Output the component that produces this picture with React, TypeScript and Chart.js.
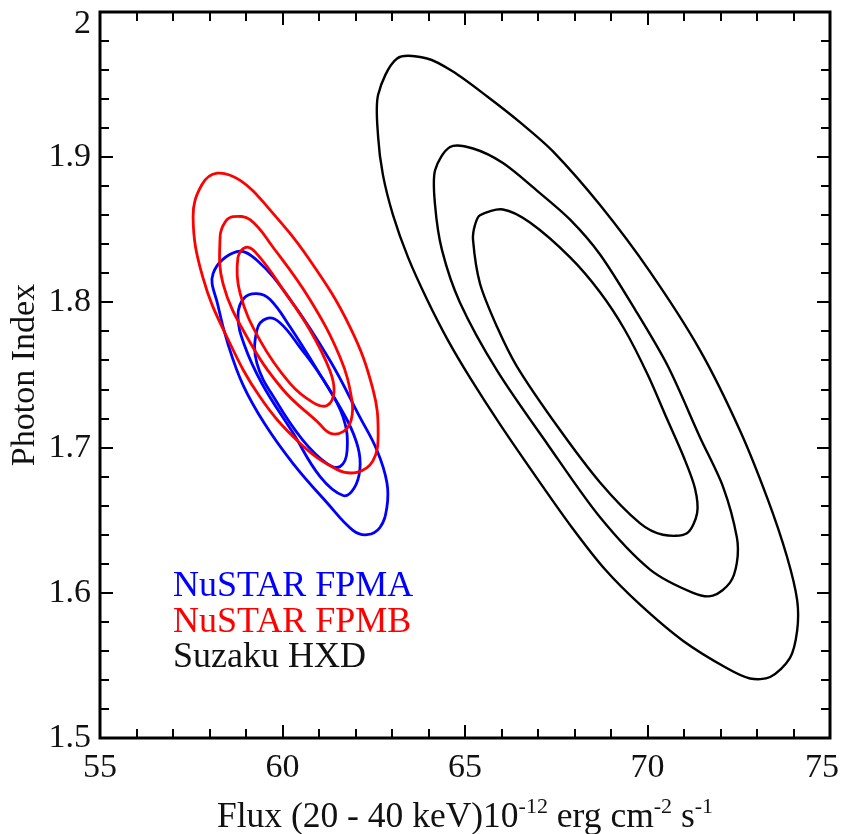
import React, { useEffect, useRef } from 'react';
import { Chart, registerables } from 'chart.js';

Chart.register(...registerables);

const FONT = "'Liberation Serif', 'Times New Roman', serif";

// Axis ranges and tick labels
const xRange = [55, 75];
const yRange = [1.5, 2.0];
const xTickLabels = ['55', '60', '65', '70', '75'];
const yTickLabels = ['1.5', '1.6', '1.7', '1.8', '1.9', '2'];
const xMinorStep = 1;
const yMinorStep = 0.02;
const minorPerMajor = 5;

// Legend
const legendLabels = ['NuSTAR FPMA', 'NuSTAR FPMB', 'Suzaku HXD'];
const seriesColors = ['#0000ff', '#ff0000', '#000000'];

// Axis titles
const yTitle = 'Photon Index';
const xTitleParts: [string, boolean][] = [
  ['Flux (20 - 40 keV)10', false],
  ['-12', true],
  [' erg cm', false],
  ['-2', true],
  [' s', false],
  ['-1', true],
];

// Contours: [flux, photon index]
const fpmaInner: [number, number][] = [
  [59.58, 1.789], [59.93, 1.786], [60.48, 1.769], [61.11, 1.747], [61.66, 1.721], [61.77, 1.698],
  [61.58, 1.687], [61.22, 1.689], [60.56, 1.705], [59.85, 1.731], [59.30, 1.758], [59.30, 1.781],
];
const fpmaMid: [number, number][] = [
  [59.30, 1.806], [59.66, 1.802], [60.21, 1.783], [61.11, 1.747], [61.77, 1.719], [62.07, 1.700],
  [62.12, 1.685], [61.96, 1.672], [61.66, 1.667], [61.03, 1.680], [60.29, 1.710], [59.44, 1.744],
  [58.95, 1.771], [58.78, 1.791], [58.95, 1.803],
];
const fpmaOuter: [number, number][] = [
  [58.75, 1.835], [59.30, 1.829], [60.21, 1.802], [61.30, 1.760], [62.12, 1.721], [62.59, 1.698],
  [62.86, 1.676], [62.86, 1.659], [62.67, 1.645], [62.32, 1.640], [61.93, 1.643], [61.22, 1.662],
  [60.29, 1.689], [59.52, 1.716], [58.92, 1.743], [58.51, 1.771], [58.23, 1.798], [58.10, 1.820],
];
const fpmbInner: [number, number][] = [
  [59.03, 1.838], [59.38, 1.831], [60.01, 1.809], [60.75, 1.781], [61.30, 1.753], [61.41, 1.738],
  [61.22, 1.729], [60.84, 1.731], [60.21, 1.744], [59.38, 1.774], [58.84, 1.806], [58.78, 1.831],
];
const fpmbMid: [number, number][] = [
  [58.64, 1.859], [59.11, 1.857], [59.74, 1.838], [60.75, 1.802], [61.58, 1.762], [61.90, 1.733],
  [61.88, 1.719], [61.66, 1.711], [61.30, 1.710], [60.95, 1.718], [60.01, 1.740], [59.03, 1.776],
  [58.37, 1.813], [58.29, 1.845], [58.42, 1.855],
];
const fpmbOuter: [number, number][] = [
  [58.21, 1.889], [58.84, 1.884], [59.58, 1.866], [60.75, 1.829], [61.85, 1.783], [62.48, 1.740],
  [62.62, 1.710], [62.48, 1.691], [62.04, 1.683], [61.49, 1.685], [60.48, 1.703], [59.38, 1.735],
  [58.48, 1.776], [57.82, 1.817], [57.55, 1.859], [57.79, 1.881],
];
const hxdInner: [number, number][] = [
  [65.27, 1.853], [65.41, 1.860], [66.04, 1.864], [66.78, 1.855], [67.88, 1.831], [68.70, 1.807],
  [69.38, 1.781], [70.01, 1.750], [70.53, 1.720], [71.00, 1.693], [71.30, 1.672], [71.36, 1.655],
  [71.08, 1.641], [70.42, 1.640], [69.79, 1.648], [68.70, 1.676], [67.55, 1.714], [66.42, 1.756],
  [65.88, 1.783], [65.41, 1.813], [65.22, 1.843],
];
const hxdMid: [number, number][] = [
  [64.18, 1.891], [64.59, 1.907], [65.22, 1.906], [66.04, 1.896], [66.97, 1.877], [67.88, 1.857],
  [68.70, 1.833], [69.66, 1.795], [70.56, 1.756], [71.44, 1.707], [72.07, 1.673], [72.45, 1.638],
  [72.45, 1.621], [72.26, 1.607], [71.79, 1.598], [71.25, 1.600], [70.07, 1.616], [68.70, 1.652],
  [67.27, 1.702], [65.88, 1.753], [64.86, 1.800], [64.37, 1.836], [64.18, 1.867],
];
const hxdOuter: [number, number][] = [
  [62.62, 1.943], [63.14, 1.968], [63.96, 1.968], [64.67, 1.959], [65.60, 1.942], [66.51, 1.924],
  [67.41, 1.904], [68.70, 1.867], [70.07, 1.821], [71.44, 1.767], [72.53, 1.712], [73.30, 1.664],
  [73.82, 1.625], [74.10, 1.595], [74.10, 1.574], [73.90, 1.555], [73.36, 1.542], [72.81, 1.541],
  [72.18, 1.548], [70.97, 1.567], [69.79, 1.592], [68.84, 1.616], [67.93, 1.645], [66.97, 1.679],
  [65.96, 1.716], [65.14, 1.748], [64.53, 1.774], [63.96, 1.802], [63.44, 1.831], [63.03, 1.860],
  [62.75, 1.888], [62.62, 1.914],
];

const contourGroups: { name: string; color: string; width: number; tension: number; loops: [number, number][][] }[] = [
  { name: legendLabels[2], color: seriesColors[2], width: 2.4, tension: 0.3, loops: [hxdOuter, hxdMid, hxdInner] },
  { name: legendLabels[1], color: seriesColors[1], width: 2.8, tension: 0.4, loops: [fpmbOuter, fpmbMid, fpmbInner] },
  { name: legendLabels[0], color: seriesColors[0], width: 2.8, tension: 0.4, loops: [fpmaOuter, fpmaMid, fpmaInner] },
];

// closed loop: wrap with neighbours so spline tangents are continuous; hide the wrap segments
function loopDataset(label: string, color: string, width: number, tension: number, pts: [number, number][]) {
  const n = pts.length;
  const wrapped = [pts[n - 1], ...pts, pts[0], pts[1]].map(([x, y]) => ({ x, y }));
  const lastSeg = wrapped.length - 2;
  return {
    label,
    data: wrapped,
    borderColor: color,
    backgroundColor: color,
    borderWidth: width,
    pointRadius: 0,
    pointHoverRadius: 0,
    showLine: true,
    fill: false,
    tension,
    segment: {
      borderColor: (ctx: any) =>
        ctx.p0DataIndex === 0 || ctx.p0DataIndex === lastSeg ? 'rgba(0,0,0,0)' : undefined,
    },
  };
}

const framePlugin = {
  id: 'frameTicks',
  beforeDraw(chart: any) {
    const xs = chart.scales.x;
    const ys = chart.scales.y;
    const xi = xs.getLabelItems();
    if (xi.length && !xi._shifted) {
      xi[xi.length - 1].options.translation[0] -= 8;
      xi._shifted = true;
    }
    const yi = ys.getLabelItems();
    if (yi.length && !yi._shifted) {
      yi[yi.length - 1].options.translation[1] += 12;
      yi._shifted = true;
    }
  },
  afterDatasetsDraw(chart: any) {
    const { ctx, chartArea: a } = chart;
    const xs = chart.scales.x;
    const ys = chart.scales.y;
    ctx.save();
    ctx.strokeStyle = '#000';
    ctx.lineWidth = 2;
    ctx.lineCap = 'butt';
    const nx = Math.round((xs.max - xs.min) / xMinorStep);
    for (let i = 0; i <= nx; i++) {
      const px = Math.round(xs.getPixelForValue(xs.min + i * xMinorStep));
      const len = i % minorPerMajor === 0 ? 13 : 9;
      ctx.beginPath();
      ctx.moveTo(px, a.bottom);
      ctx.lineTo(px, a.bottom - len);
      ctx.moveTo(px, a.top);
      ctx.lineTo(px, a.top + len);
      ctx.stroke();
    }
    const ny = Math.round((ys.max - ys.min) / yMinorStep);
    for (let i = 0; i <= ny; i++) {
      const py = Math.round(ys.getPixelForValue(ys.min + i * yMinorStep));
      const len = i % minorPerMajor === 0 ? 13 : 9;
      ctx.beginPath();
      ctx.moveTo(a.left, py);
      ctx.lineTo(a.left + len, py);
      ctx.moveTo(a.right, py);
      ctx.lineTo(a.right - len, py);
      ctx.stroke();
    }
    ctx.lineWidth = 3;
    ctx.strokeRect(a.left, a.top, a.right - a.left, a.bottom - a.top);

    // legend text inside the plot
    ctx.textAlign = 'left';
    ctx.textBaseline = 'alphabetic';
    ctx.font = `36px ${FONT}`;
    const lx = a.left + 73;
    const baselines = [a.top + 584, a.top + 620, a.top + 655];
    legendLabels.forEach((t, i) => {
      ctx.fillStyle = seriesColors[i] === '#000000' ? '#111' : seriesColors[i];
      ctx.fillText(t, lx, baselines[i]);
    });

    // x-axis title with superscripts
    const base = a.bottom + 89;
    const mainFont = `35.5px ${FONT}`;
    const supFont = `22px ${FONT}`;
    let total = 0;
    const widths = xTitleParts.map(([t, sup]) => {
      ctx.font = sup ? supFont : mainFont;
      const w = ctx.measureText(t).width;
      total += w;
      return w;
    });
    let x = (a.left + a.right) / 2 - total / 2;
    ctx.fillStyle = '#111';
    xTitleParts.forEach(([t, sup], i) => {
      ctx.font = sup ? supFont : mainFont;
      ctx.fillText(t, x, sup ? base - 14 : base);
      x += widths[i];
    });
    ctx.restore();
  },
};

export default function App() {
  const ref = useRef<HTMLCanvasElement | null>(null);
  useEffect(() => {
    if (!ref.current) return;
    const datasets: any[] = [];
    contourGroups.forEach((g) => {
      g.loops.forEach((pts) => datasets.push(loopDataset(g.name, g.color, g.width, g.tension, pts)));
    });
    const chart = new Chart(ref.current, {
      type: 'scatter',
      data: { datasets },
      plugins: [framePlugin],
      options: {
        responsive: false,
        animation: false,
        events: [],
        layout: { padding: { left: 0, right: 11, top: 12, bottom: 0 } },
        plugins: { legend: { display: false }, tooltip: { enabled: false } },
        scales: {
          x: {
            type: 'linear',
            position: 'bottom',
            min: xRange[0],
            max: xRange[1],
            afterFit: (s: any) => {
              s.height = 96;
              s.paddingLeft = 0;
              s.paddingRight = 0;
            },
            grid: { display: false, drawTicks: false },
            border: { display: false },
            ticks: {
              stepSize: 5,
              padding: 10,
              color: '#111',
              maxRotation: 0,
              autoSkip: false,
              font: { family: FONT, size: 34, lineHeight: 1.2 },
              callback: (_v: any, i: number) => xTickLabels[i],
            },
            title: { display: false },
          },
          y: {
            type: 'linear',
            position: 'left',
            min: yRange[0],
            max: yRange[1],
            afterFit: (s: any) => {
              s.width = 100;
              s.paddingTop = 0;
              s.paddingBottom = 0;
            },
            grid: { display: false, drawTicks: false },
            border: { display: false },
            ticks: {
              stepSize: 0.1,
              padding: 9,
              color: '#111',
              autoSkip: false,
              font: { family: FONT, size: 34, lineHeight: 1.2 },
              callback: (_v: any, i: number) => yTickLabels[i],
            },
            title: {
              display: true,
              text: yTitle,
              color: '#111',
              font: { family: FONT, size: 34, lineHeight: 1 },
              padding: { top: 8, bottom: 0 },
            },
          },
        },
      },
    });
    return () => chart.destroy();
  }, []);
  return (
    <div style={{ position: 'absolute', left: 0, top: 0, width: 841, height: 834, background: '#fff' }}>
      <canvas ref={ref} width={841} height={834} />
    </div>
  );
}
